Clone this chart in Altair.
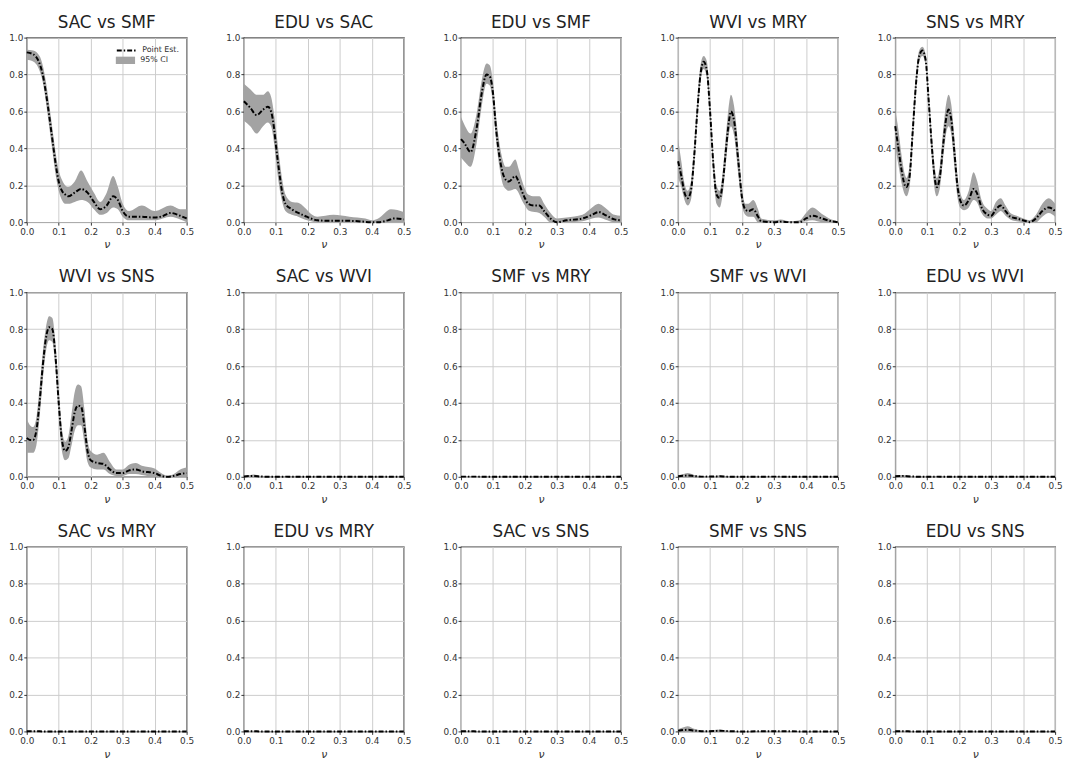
import altair as alt
import pandas as pd

FONT = "DejaVu Sans"
CI_COLOR = "#a3a3a3"
DASH = [5, 2, 1.5, 2]

# ---------------- Panel data ----------------
titles = ["SAC vs SMF", "EDU vs SAC", "EDU vs SMF", "WVI vs MRY", "SNS vs MRY",
          "WVI vs SNS", "SAC vs WVI", "SMF vs MRY", "SMF vs WVI", "EDU vs WVI",
          "SAC vs MRY", "EDU vs MRY", "SAC vs SNS", "SMF vs SNS", "EDU vs SNS"]

# SAC vs SMF
p1_x = [0, 0.02, 0.04, 0.05, 0.06, 0.07, 0.08, 0.09, 0.10, 0.11, 0.12, 0.13, 0.15, 0.17, 0.19, 0.21, 0.23, 0.25, 0.27, 0.285, 0.30, 0.32, 0.35, 0.40, 0.42, 0.45, 0.48, 0.50]
p1_y = [0.92, 0.91, 0.86, 0.80, 0.70, 0.58, 0.45, 0.32, 0.22, 0.17, 0.15, 0.14, 0.16, 0.18, 0.16, 0.11, 0.07, 0.09, 0.14, 0.12, 0.06, 0.03, 0.03, 0.025, 0.03, 0.05, 0.035, 0.02]
c1_x = [0, 0.02, 0.04, 0.05, 0.06, 0.07, 0.08, 0.09, 0.10, 0.11, 0.12, 0.13, 0.15, 0.17, 0.19, 0.21, 0.23, 0.25, 0.27, 0.285, 0.30, 0.32, 0.36, 0.40, 0.45, 0.48, 0.50]
c1_lo = [0.88, 0.87, 0.82, 0.76, 0.65, 0.52, 0.39, 0.26, 0.17, 0.12, 0.10, 0.10, 0.11, 0.12, 0.11, 0.07, 0.04, 0.05, 0.08, 0.07, 0.03, 0.01, 0.01, 0.01, 0.03, 0.015, 0.0]
c1_hi = [0.935, 0.93, 0.90, 0.85, 0.76, 0.64, 0.51, 0.38, 0.28, 0.23, 0.20, 0.19, 0.22, 0.28, 0.22, 0.16, 0.11, 0.16, 0.25, 0.19, 0.10, 0.06, 0.09, 0.06, 0.09, 0.07, 0.07]

# EDU vs SAC
p2_x = [0, 0.02, 0.04, 0.06, 0.075, 0.085, 0.095, 0.10, 0.11, 0.12, 0.13, 0.15, 0.17, 0.19, 0.21, 0.23, 0.26, 0.30, 0.35, 0.40, 0.42, 0.45, 0.47, 0.50]
p2_y = [0.655, 0.62, 0.58, 0.61, 0.625, 0.60, 0.50, 0.42, 0.28, 0.16, 0.10, 0.07, 0.05, 0.035, 0.02, 0.01, 0.008, 0.008, 0.006, 0.0, 0.0, 0.01, 0.02, 0.015]
c2_x = [0, 0.02, 0.04, 0.06, 0.075, 0.085, 0.095, 0.10, 0.11, 0.12, 0.13, 0.15, 0.17, 0.19, 0.21, 0.23, 0.28, 0.33, 0.38, 0.40, 0.42, 0.46, 0.50]
c2_lo = [0.55, 0.52, 0.48, 0.52, 0.54, 0.52, 0.42, 0.34, 0.20, 0.11, 0.06, 0.04, 0.03, 0.015, 0.005, 0.0, 0.0, 0.0, 0.0, 0.0, 0.0, 0.0, 0.0]
c2_hi = [0.75, 0.72, 0.69, 0.69, 0.71, 0.68, 0.58, 0.51, 0.36, 0.23, 0.15, 0.11, 0.105, 0.08, 0.045, 0.03, 0.04, 0.03, 0.02, 0.01, 0.02, 0.07, 0.055]

# EDU vs SMF
p3_x = [0, 0.01, 0.03, 0.05, 0.065, 0.08, 0.09, 0.10, 0.11, 0.12, 0.13, 0.14, 0.15, 0.17, 0.18, 0.19, 0.20, 0.21, 0.23, 0.245, 0.26, 0.28, 0.30, 0.33, 0.38, 0.41, 0.43, 0.45, 0.48, 0.50]
p3_y = [0.45, 0.43, 0.38, 0.52, 0.70, 0.80, 0.79, 0.70, 0.50, 0.36, 0.27, 0.23, 0.22, 0.25, 0.22, 0.17, 0.13, 0.10, 0.09, 0.09, 0.06, 0.02, 0.0, 0.01, 0.02, 0.04, 0.055, 0.04, 0.015, 0.01]
c3_x = p3_x
c3_lo = [0.35, 0.33, 0.30, 0.44, 0.63, 0.75, 0.74, 0.64, 0.44, 0.30, 0.21, 0.18, 0.17, 0.18, 0.16, 0.12, 0.09, 0.065, 0.055, 0.05, 0.03, 0.0, 0.0, 0.0, 0.005, 0.02, 0.025, 0.015, 0.0, 0.0]
c3_hi = [0.57, 0.53, 0.48, 0.60, 0.77, 0.86, 0.85, 0.76, 0.57, 0.43, 0.34, 0.30, 0.30, 0.34, 0.29, 0.23, 0.18, 0.15, 0.14, 0.14, 0.10, 0.05, 0.02, 0.025, 0.04, 0.08, 0.10, 0.08, 0.04, 0.035]

# WVI vs MRY
p4_x = [0, 0.01, 0.02, 0.03, 0.04, 0.05, 0.06, 0.07, 0.08, 0.09, 0.10, 0.11, 0.12, 0.13, 0.14, 0.15, 0.16, 0.165, 0.175, 0.19, 0.20, 0.21, 0.22, 0.235, 0.25, 0.26, 0.30, 0.32, 0.35, 0.38, 0.40, 0.42, 0.45, 0.48, 0.50]
p4_y = [0.33, 0.25, 0.16, 0.13, 0.17, 0.35, 0.60, 0.80, 0.87, 0.82, 0.60, 0.32, 0.15, 0.13, 0.22, 0.40, 0.56, 0.60, 0.55, 0.30, 0.13, 0.07, 0.06, 0.07, 0.03, 0.005, 0.0, 0.003, 0.0, 0.0, 0.02, 0.035, 0.02, 0.005, 0.0]
c4_x = p4_x
c4_lo = [0.24, 0.19, 0.12, 0.09, 0.12, 0.29, 0.55, 0.76, 0.83, 0.78, 0.55, 0.27, 0.10, 0.08, 0.16, 0.33, 0.49, 0.52, 0.47, 0.23, 0.09, 0.04, 0.03, 0.03, 0.0, 0.0, 0.0, 0.0, 0.0, 0.0, 0.005, 0.01, 0.0, 0.0, 0.0]
c4_hi = [0.45, 0.33, 0.21, 0.17, 0.22, 0.41, 0.66, 0.85, 0.90, 0.87, 0.65, 0.37, 0.20, 0.17, 0.28, 0.48, 0.65, 0.69, 0.63, 0.37, 0.18, 0.10, 0.10, 0.12, 0.07, 0.02, 0.01, 0.015, 0.005, 0.01, 0.05, 0.08, 0.045, 0.015, 0.005]

# SNS vs MRY
p5_x = [0, 0.01, 0.02, 0.03, 0.035, 0.045, 0.055, 0.065, 0.075, 0.085, 0.095, 0.105, 0.115, 0.125, 0.13, 0.14, 0.15, 0.16, 0.167, 0.175, 0.185, 0.195, 0.205, 0.215, 0.23, 0.245, 0.255, 0.27, 0.29, 0.30, 0.315, 0.33, 0.345, 0.36, 0.38, 0.41, 0.42, 0.44, 0.46, 0.48, 0.50]
p5_y = [0.52, 0.40, 0.28, 0.20, 0.19, 0.25, 0.50, 0.75, 0.90, 0.93, 0.88, 0.65, 0.40, 0.22, 0.19, 0.25, 0.42, 0.57, 0.61, 0.56, 0.38, 0.19, 0.11, 0.09, 0.12, 0.18, 0.16, 0.08, 0.04, 0.035, 0.07, 0.09, 0.06, 0.03, 0.02, 0.005, 0.0, 0.02, 0.06, 0.08, 0.06]
c5_x = p5_x
c5_lo = [0.41, 0.31, 0.21, 0.15, 0.14, 0.19, 0.44, 0.70, 0.87, 0.90, 0.85, 0.60, 0.34, 0.16, 0.14, 0.19, 0.35, 0.49, 0.52, 0.48, 0.30, 0.13, 0.075, 0.065, 0.08, 0.12, 0.11, 0.05, 0.02, 0.02, 0.04, 0.06, 0.035, 0.015, 0.005, 0.0, 0.0, 0.0, 0.03, 0.05, 0.03]
c5_hi = [0.61, 0.50, 0.36, 0.26, 0.24, 0.31, 0.56, 0.80, 0.93, 0.95, 0.91, 0.70, 0.46, 0.28, 0.24, 0.31, 0.50, 0.65, 0.69, 0.64, 0.46, 0.25, 0.15, 0.12, 0.17, 0.27, 0.23, 0.12, 0.07, 0.06, 0.11, 0.13, 0.09, 0.05, 0.035, 0.015, 0.01, 0.04, 0.10, 0.13, 0.10]

# WVI vs SNS
p6_x = [0, 0.01, 0.02, 0.03, 0.04, 0.05, 0.06, 0.07, 0.08, 0.09, 0.10, 0.11, 0.12, 0.13, 0.14, 0.15, 0.16, 0.17, 0.18, 0.19, 0.20, 0.22, 0.24, 0.26, 0.28, 0.30, 0.32, 0.34, 0.36, 0.40, 0.42, 0.44, 0.46, 0.48, 0.50]
p6_y = [0.21, 0.20, 0.20, 0.25, 0.40, 0.60, 0.75, 0.81, 0.80, 0.65, 0.40, 0.20, 0.14, 0.16, 0.25, 0.35, 0.385, 0.38, 0.28, 0.14, 0.09, 0.075, 0.07, 0.04, 0.02, 0.02, 0.035, 0.04, 0.03, 0.02, 0.005, 0.0, 0.005, 0.015, 0.02]
c6_x = p6_x
c6_lo = [0.13, 0.13, 0.13, 0.17, 0.32, 0.52, 0.68, 0.74, 0.73, 0.58, 0.33, 0.14, 0.09, 0.10, 0.17, 0.25, 0.28, 0.28, 0.19, 0.08, 0.05, 0.04, 0.04, 0.015, 0.005, 0.005, 0.015, 0.015, 0.01, 0.0, 0.0, 0.0, 0.0, 0.0, 0.0]
c6_hi = [0.31, 0.28, 0.27, 0.32, 0.48, 0.67, 0.81, 0.87, 0.86, 0.72, 0.47, 0.26, 0.19, 0.22, 0.34, 0.46, 0.50, 0.49, 0.37, 0.20, 0.14, 0.12, 0.13, 0.08, 0.04, 0.04, 0.065, 0.075, 0.06, 0.045, 0.02, 0.005, 0.015, 0.04, 0.05]

# Nearly flat panels (shared nu grid)
e_x = [0, 0.02, 0.03, 0.05, 0.08, 0.12, 0.13, 0.15, 0.2, 0.3, 0.4, 0.5]
e7_y = [0.002, 0.004, 0.004, 0.002, 0.0, 0.0, 0.001, 0.0, 0.0, 0.0, 0.0, 0.0]
e7_hi = [0.005, 0.01, 0.012, 0.006, 0.002, 0.002, 0.004, 0.002, 0.001, 0.002, 0.001, 0.001]
e8_y = [0.001, 0.001, 0.001, 0.001, 0.0, 0.0, 0.0, 0.0, 0.0, 0.0, 0.0, 0.0]
e8_hi = [0.003, 0.004, 0.004, 0.003, 0.002, 0.002, 0.002, 0.002, 0.001, 0.002, 0.001, 0.001]
e9_y = [0.003, 0.006, 0.007, 0.004, 0.001, 0.002, 0.003, 0.001, 0.0, 0.001, 0.0, 0.0]
e9_hi = [0.008, 0.017, 0.02, 0.01, 0.003, 0.006, 0.008, 0.003, 0.002, 0.003, 0.001, 0.001]
e10_y = [0.003, 0.005, 0.004, 0.002, 0.0, 0.0, 0.001, 0.0, 0.0, 0.0, 0.0, 0.0]
e10_hi = [0.008, 0.01, 0.008, 0.004, 0.002, 0.002, 0.003, 0.002, 0.001, 0.001, 0.001, 0.001]
e11_y = [0.001, 0.001, 0.001, 0.0, 0.0, 0.0, 0.0, 0.0, 0.0, 0.0, 0.0, 0.0]
e11_hi = [0.003, 0.003, 0.003, 0.002, 0.001, 0.001, 0.001, 0.001, 0.001, 0.001, 0.001, 0.001]
e12_y = e11_y
e12_hi = e11_hi
e13_y = e11_y
e13_hi = e11_hi
e14_y = [0.004, 0.008, 0.009, 0.005, 0.001, 0.003, 0.004, 0.002, 0.0, 0.001, 0.0, 0.0]
e14_hi = [0.012, 0.024, 0.028, 0.014, 0.004, 0.009, 0.011, 0.005, 0.002, 0.003, 0.001, 0.001]
e15_y = e11_y
e15_hi = e11_hi

x_ticks = [0.0, 0.1, 0.2, 0.3, 0.4, 0.5]
y_ticks = [0.0, 0.2, 0.4, 0.6, 0.8, 1.0]

W, H = 162, 187


def x_axis():
    return alt.Axis(values=x_ticks, format=".1f", title="ν", labelOverlap=False,
                    titleFontStyle="italic", titleFontWeight="normal",
                    titleFontSize=11, titlePadding=3, labelPadding=2)


def y_axis():
    return alt.Axis(values=y_ticks, format=".1f", title=None, labelOverlap=False)


def panel(title, px, py, cx, clo, chi, legend=False):
    pdf = pd.DataFrame({"nu": px, "est": py, "lab": "Point Est."})
    cdf = pd.DataFrame({"nu": cx, "lo": clo, "hi": chi, "lab": "95% CI"})
    x_scale = alt.Scale(domain=[0, 0.5], nice=False, zero=False)
    y_scale = alt.Scale(domain=[0, 1], nice=False)
    if legend:
        fill = alt.Fill("lab:N", scale=alt.Scale(range=[CI_COLOR]),
                        legend=alt.Legend(orient="none", legendX=90, legendY=13, title=None,
                                          symbolType="M-1,-0.38H1V0.38H-1Z", symbolSize=380,
                                          symbolStrokeWidth=0, labelFontSize=8, labelFont=FONT,
                                          labelColor="#333", padding=0, labelOffset=5))
        stroke = alt.Stroke("lab:N", scale=alt.Scale(range=["black"]),
                            legend=alt.Legend(orient="none", legendX=90, legendY=2, title=None,
                                              symbolType="stroke", symbolSize=380,
                                              symbolStrokeWidth=2, symbolDash=DASH,
                                              labelFontSize=8, labelFont=FONT,
                                              labelColor="#333", padding=0, labelOffset=5))
    else:
        fill = alt.value(CI_COLOR)
        stroke = alt.value("black")
    area = alt.Chart(cdf).mark_area(interpolate="monotone", opacity=1).encode(
        x=alt.X("nu:Q", scale=x_scale, axis=x_axis(), title="ν"),
        y=alt.Y("lo:Q", scale=y_scale, axis=y_axis()),
        y2="hi:Q",
        fill=fill,
    )
    line = alt.Chart(pdf).mark_line(interpolate="monotone", strokeWidth=2,
                                    strokeDash=DASH).encode(
        x=alt.X("nu:Q", scale=x_scale, axis=x_axis(), title="ν"),
        y=alt.Y("est:Q", scale=y_scale, axis=y_axis()),
        stroke=stroke,
    )
    return alt.layer(area, line).properties(
        width=W, height=H,
        title=alt.TitleParams(title, fontSize=17, font=FONT, fontWeight="normal",
                              color="#222", anchor="middle", frame="group", offset=2),
    )


panels = [
    panel(titles[0], p1_x, p1_y, c1_x, c1_lo, c1_hi, legend=True),
    panel(titles[1], p2_x, p2_y, c2_x, c2_lo, c2_hi),
    panel(titles[2], p3_x, p3_y, c3_x, c3_lo, c3_hi),
    panel(titles[3], p4_x, p4_y, c4_x, c4_lo, c4_hi),
    panel(titles[4], p5_x, p5_y, c5_x, c5_lo, c5_hi),
    panel(titles[5], p6_x, p6_y, c6_x, c6_lo, c6_hi),
    panel(titles[6], e_x, e7_y, e_x, [0] * len(e_x), e7_hi),
    panel(titles[7], e_x, e8_y, e_x, [0] * len(e_x), e8_hi),
    panel(titles[8], e_x, e9_y, e_x, [0] * len(e_x), e9_hi),
    panel(titles[9], e_x, e10_y, e_x, [0] * len(e_x), e10_hi),
    panel(titles[10], e_x, e11_y, e_x, [0] * len(e_x), e11_hi),
    panel(titles[11], e_x, e12_y, e_x, [0] * len(e_x), e12_hi),
    panel(titles[12], e_x, e13_y, e_x, [0] * len(e_x), e13_hi),
    panel(titles[13], e_x, e14_y, e_x, [0] * len(e_x), e14_hi),
    panel(titles[14], e_x, e15_y, e_x, [0] * len(e_x), e15_hi),
]

chart = alt.concat(*panels, columns=5, spacing={"row": 17, "column": 31}).properties(
    padding={"left": 0, "top": 0, "right": 0, "bottom": 0},
    background="white",
).resolve_legend(fill="independent", stroke="independent").resolve_scale(
    fill="independent", stroke="independent"
).configure_view(
    stroke="#222", strokeWidth=1.2
).configure_axis(
    labelFont=FONT, titleFont=FONT, labelFontSize=9, labelColor="#333",
    tickColor="#333", tickSize=3, domain=False,
    grid=True, gridColor="#cccccc", gridWidth=1, labelPadding=1, labelFlush=False,
    titleColor="#333",
)

chart.save("out.html", embed_options={"renderer": "svg", "actions": False})
